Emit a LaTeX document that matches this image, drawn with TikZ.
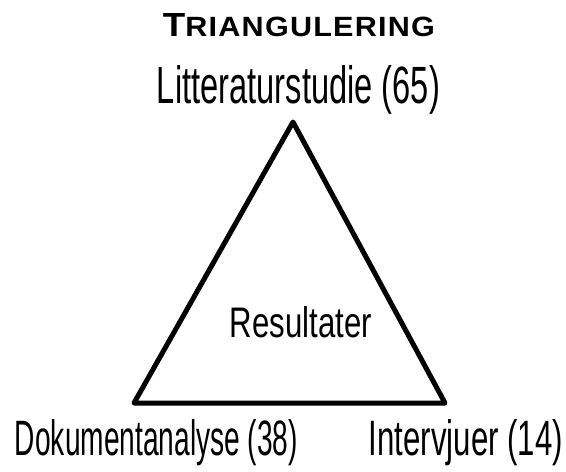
\documentclass[tikz,border=0pt]{standalone}
\usepackage{fontspec}
\setmainfont{Liberation Sans}
\tikzset{
  lbl/.style={inner sep=0pt, anchor=base},
  tri/.style={draw=black, line width=5pt, line join=round, line cap=round}
}
\begin{document}
\begin{tikzpicture}[x=1pt,y=-1pt]
\useasboundingbox (0,0) rectangle (566,472);
\coordinate (top) at (293,122);
\coordinate (bl) at (134,403);
\coordinate (br) at (445,403);
\draw[tri] (top) -- (br) -- (bl) -- cycle;
\node[lbl] (title) at (299,36) {\resizebox{272pt}{23pt}{\bfseries\addfontfeature{LetterSpace=4}{\large T}{\normalsize RIANGULERING}}};
\node[lbl] (lit) at (298.5,103) {\resizebox{283pt}{38pt}{Litteraturstudie (65)}};
\node[lbl] (res) at (301,337) {\resizebox{142pt}{31pt}{Resultater}};
\node[lbl] (dok) at (156.5,455) {\resizebox{283pt}{36pt}{Dokumentanalyse (38)}};
\node[lbl] (int) at (466,455) {\resizebox{194pt}{36pt}{Intervjuer (14)}};
\end{tikzpicture}
\end{document}
